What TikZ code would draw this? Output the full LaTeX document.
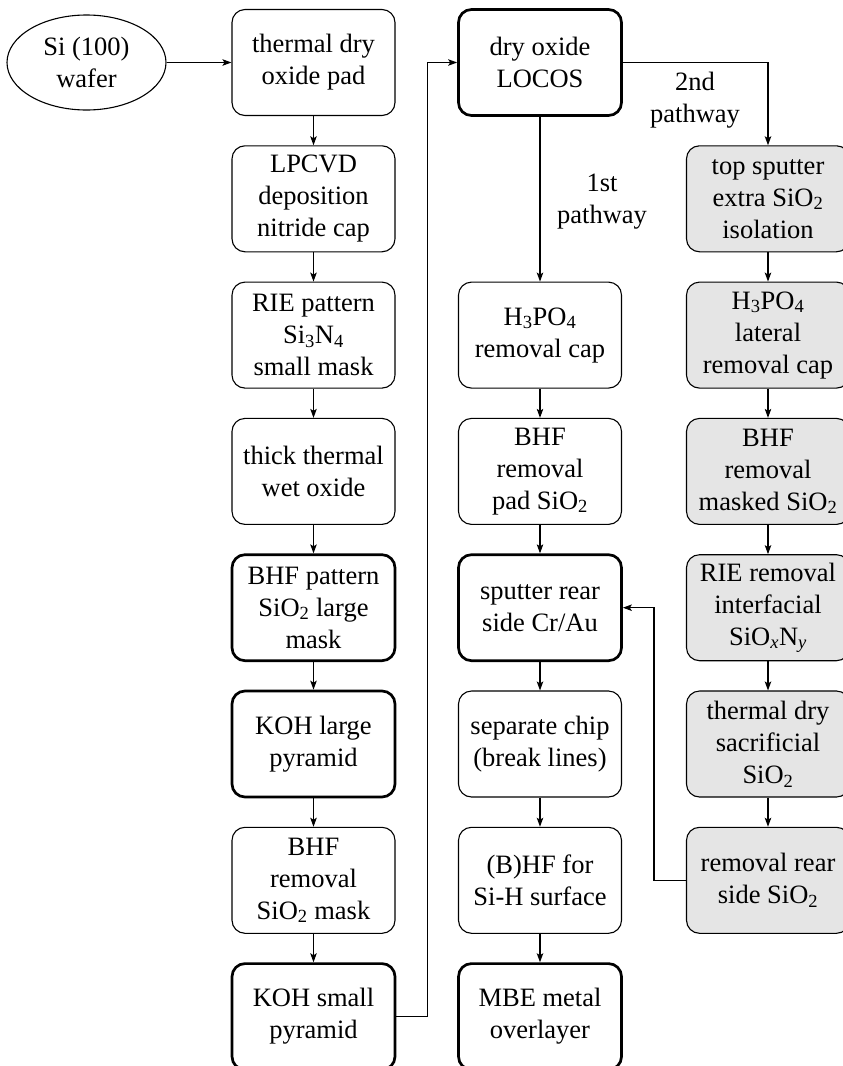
\documentclass[tikz,border=0pt]{standalone}
\usepackage{fontspec}
\setmainfont{Liberation Serif}
\usetikzlibrary{arrows.meta,shapes.geometric}
\begin{document}
\begin{tikzpicture}[x=1pt,y=-1pt,
  every node/.style={font=\fontsize{26.5}{32}\selectfont, align=center},
  box/.style={draw, rounded corners=13pt, minimum width=163pt, minimum height=106pt, line width=1.1pt, inner sep=0pt},
  boldbox/.style={box, line width=2.7pt},
  graybox/.style={box, fill=gray!20},
  arr/.style={-{Stealth[length=9pt,width=6.5pt,inset=2pt]}, line width=1.1pt},
  lbl/.style={inner sep=0pt}
]
\useasboundingbox (0,0) rectangle (843,1066);

% column 1
\node[draw, ellipse, minimum width=159pt, minimum height=95pt, inner sep=0pt, line width=1.1pt] (w) at (86.5,62.5) {Si (100)\\wafer};

% column 2
\node[box]     (a1) at (313.5,62.5)  {thermal dry\\oxide pad};
\node[box]     (a2) at (313.5,198.8) {LPCVD\\deposition\\nitride cap};
\node[box]     (a3) at (313.5,335.1) {RIE pattern\\Si\textsubscript{3}N\textsubscript{4}\\small mask};
\node[box]     (a4) at (313.5,471.4) {thick thermal\\wet oxide};
\node[boldbox] (a5) at (313.5,607.7) {BHF pattern\\SiO\textsubscript{2} large\\mask};
\node[boldbox] (a6) at (313.5,744.0) {KOH large\\pyramid};
\node[box]     (a7) at (313.5,880.3) {BHF\\removal\\SiO\textsubscript{2} mask};
\node[boldbox] (a8) at (313.5,1016.6) {KOH small\\pyramid};

% column 3
\node[boldbox] (b0) at (540,62.5)  {dry oxide\\LOCOS};
\node[box]     (b2) at (540,335.1) {H\textsubscript{3}PO\textsubscript{4}\\removal cap};
\node[box]     (b3) at (540,471.4) {BHF\\removal\\pad SiO\textsubscript{2}};
\node[boldbox] (b4) at (540,607.7) {sputter rear\\side Cr/Au};
\node[box]     (b5) at (540,744.0) {separate chip\\(break lines)};
\node[box]     (b6) at (540,880.3) {(B)HF for\\Si-H surface};
\node[boldbox] (b7) at (540,1016.6) {MBE metal\\overlayer};

% column 4
\node[graybox] (c1) at (768,198.8) {top sputter\\extra SiO\textsubscript{2}\\isolation};
\node[graybox] (c2) at (768,335.1) {H\textsubscript{3}PO\textsubscript{4}\\lateral\\removal cap};
\node[graybox] (c3) at (768,471.4) {BHF\\removal\\masked SiO\textsubscript{2}};
\node[graybox] (c4) at (768,607.7) {RIE removal\\interfacial\\SiO\textsubscript{\textit{x}}N\textsubscript{\textit{y}}};
\node[graybox] (c5) at (768,744.0) {thermal dry\\sacrificial\\SiO\textsubscript{2}};
\node[graybox] (c6) at (768,880.3) {removal rear\\side SiO\textsubscript{2}};

% labels
\node[lbl] (l1) at (602,202) {1st\\pathway};
\node[lbl] (l2) at (695,100) {2nd\\pathway};

% connectors
\draw[arr] (w) -- (a1);
\draw[arr] (a1) -- (a2);
\draw[arr] (a2) -- (a3);
\draw[arr] (a3) -- (a4);
\draw[arr] (a4) -- (a5);
\draw[arr] (a5) -- (a6);
\draw[arr] (a6) -- (a7);
\draw[arr] (a7) -- (a8);
\draw[arr] (a8.east) -- ++(31.5,0) |- (b0.west);

\draw[arr] (b0) -- (b2);
\draw[arr] (b2) -- (b3);
\draw[arr] (b3) -- (b4);
\draw[arr] (b4) -- (b5);
\draw[arr] (b5) -- (b6);
\draw[arr] (b6) -- (b7);

\draw[arr] (b0.east) -| (c1.north);
\draw[arr] (c1) -- (c2);
\draw[arr] (c2) -- (c3);
\draw[arr] (c3) -- (c4);
\draw[arr] (c4) -- (c5);
\draw[arr] (c5) -- (c6);
\draw[arr] (c6.west) -- ++(-32,0) |- (b4.east);
\end{tikzpicture}
\end{document}
